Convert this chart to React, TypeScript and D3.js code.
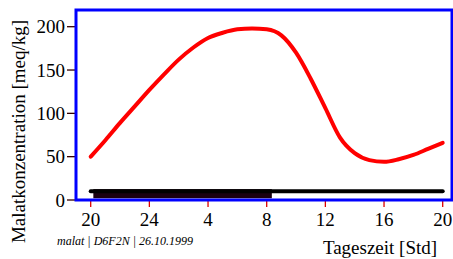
import * as d3 from "d3";

// hours after 20:00
const hours = [0, 1, 2, 3, 4, 5, 6, 7, 8, 9, 10, 11, 12, 13, 14, 15, 16, 17, 18, 19, 20, 21, 22, 23, 24];
const malat = [50, 69, 89, 108, 127, 145, 162, 176, 187, 193, 197, 198, 197, 190, 170, 140, 106, 72, 54, 46, 44, 47, 52, 59, 66];

const xTickHours = [0, 4, 8, 12, 16, 20, 24];
const xTickLabels = ["20", "24", "4", "8", "12", "16", "20"];
const yTicks = [0, 50, 100, 150, 200];

// light / dark markers
const lightLine = { from: 0, to: 24, value: 10 };
const darkBar = { from: 0.18, to: 12.35, low: 2, high: 12.5 };

const W = 453;
const H = 259;
const font = "'Liberation Serif', 'Times New Roman', serif";

export default function App() {
  const x = d3.scaleLinear().domain([0, 24]).range([90.7, 442.7]);
  const y = d3.scaleLinear().domain([0, 200]).range([200, 26.7]);

  const line = d3
    .line<number>()
    .x((_, i) => x(hours[i]))
    .y((d) => y(d))
    .curve(d3.curveMonotoneX);

  const left = 76;
  const top = 10;
  const right = 452;
  const bottom = 200;

  return (
    <svg width={W} height={H} style={{ position: "absolute", left: 0, top: 0 }} fontFamily={font}>
      {/* y ticks */}
      {yTicks.map((t) => (
        <g key={t}>
          <line x1={67} x2={left} y1={y(t)} y2={y(t)} stroke="#300" strokeWidth={1.3} />
          <text x={65} y={y(t) + 6.5} textAnchor="end" fontSize={19}>
            {t}
          </text>
        </g>
      ))}
      {/* x ticks */}
      {xTickHours.map((h, i) => (
        <g key={i}>
          <line x1={x(h)} x2={x(h)} y1={bottom} y2={207} stroke="#d00" strokeWidth={1.3} />
          <text x={x(h)} y={226} textAnchor="middle" fontSize={19}>
            {xTickLabels[i]}
          </text>
        </g>
      ))}

      <rect
        x={x(darkBar.from)}
        y={y(darkBar.high)}
        width={x(darkBar.to) - x(darkBar.from)}
        height={y(darkBar.low) - y(darkBar.high)}
        fill="#1a0010"
      />
      <line
        x1={x(lightLine.from)}
        x2={x(lightLine.to)}
        y1={y(lightLine.value)}
        y2={y(lightLine.value)}
        stroke="#000"
        strokeWidth={4}
        strokeLinecap="round"
      />

      <path d={line(malat) ?? ""} fill="none" stroke="#ff0000" strokeWidth={4} strokeLinecap="round" strokeLinejoin="round" />

      <rect x={left} y={top} width={right - left} height={bottom - top} fill="none" stroke="#0000ff" strokeWidth={3} />

      <text transform={`translate(25,131.5) rotate(-90)`} textAnchor="middle" fontSize={19}>
        Malatkonzentration [meq/kg]
      </text>
      <text x={57} y={245} fontSize={12} fontStyle="italic">
        malat | D6F2N | 26.10.1999
      </text>
      <text x={380} y={254} textAnchor="middle" fontSize={19}>
        Tageszeit [Std]
      </text>
    </svg>
  );
}
